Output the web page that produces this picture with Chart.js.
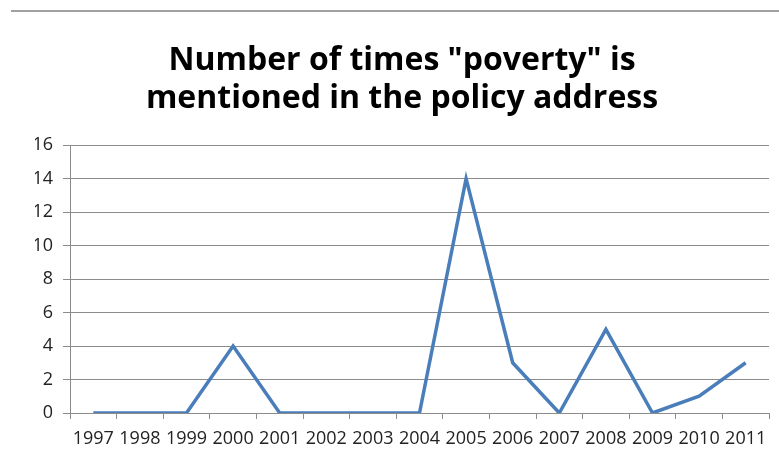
<!DOCTYPE html>
<html>
<head>
<meta charset="utf-8">
<script src="https://cdn.jsdelivr.net/npm/chart.js@4"></script>
<style>
  body { margin: 0; background: #fff; }
  #wrap { position: relative; width: 779px; height: 462px; }
  #topline { position: absolute; top: 10px; left: 11px; right: 0; border-top: 2px solid #a0a0a0; }
</style>
</head>
<body>
<div id="wrap">
  <div id="topline"></div>
  <canvas id="myChart" width="779" height="462"></canvas>
</div>
<script>
const years = ['1997', '1998', '1999', '2000', '2001', '2002', '2003', '2004', '2005', '2006', '2007', '2008', '2009', '2010', '2011'];
const mentions = [0, 0, 0, 4, 0, 0, 0, 0, 14, 3, 0, 5, 0, 1, 3];
const titleLines = ['Number of times "poverty" is', 'mentioned in the policy address'];

const tickFont = { family: 'Open Sans', size: 18 };

const config = {
  type: 'line',
  data: {
    labels: years,
    datasets: [
      {
        label: 'Mentions',
        data: mentions,
        borderColor: '#4a7ebb',
        backgroundColor: '#4a7ebb',
        borderWidth: 3.5,
        pointRadius: 0,
        tension: 0,
      },
    ],
  },
  options: {
    responsive: false,
    animation: false,
    events: [],
    layout: {
      // left padding is larger so the title sits centred like the original
      padding: { left: 35, right: 10, top: 0, bottom: 9 },
    },
    scales: {
      x: {
        offset: true,
        grid: {
          offset: true,
          drawOnChartArea: false,
          drawTicks: true,
          tickLength: 6,
          color: '#8c8c8c',
        },
        border: { color: '#8c8c8c' },
        ticks: {
          color: '#222',
          font: tickFont,
          maxRotation: 0,
          autoSkip: false,
          padding: 9,
        },
        afterFit: (scale) => { scale.height = 40; },
      },
      y: {
        min: 0,
        max: 16,
        ticks: {
          stepSize: 2,
          color: '#222',
          font: tickFont,
          padding: 10,
        },
        grid: {
          color: '#8c8c8c',
          tickLength: 7,
        },
        border: { color: '#8c8c8c' },
        afterFit: (scale) => { scale.width = 35; },
      },
    },
    plugins: {
      legend: { display: false },
      tooltip: { enabled: false },
      title: {
        display: true,
        text: titleLines,
        color: '#000',
        font: { family: 'Open Sans', size: 32, weight: 'bold', lineHeight: 1.19 },
        padding: { top: 42, bottom: 27 },
      },
    },
  },
};

const myChart = new Chart(document.getElementById('myChart'), config);
</script>
</body>
</html>
